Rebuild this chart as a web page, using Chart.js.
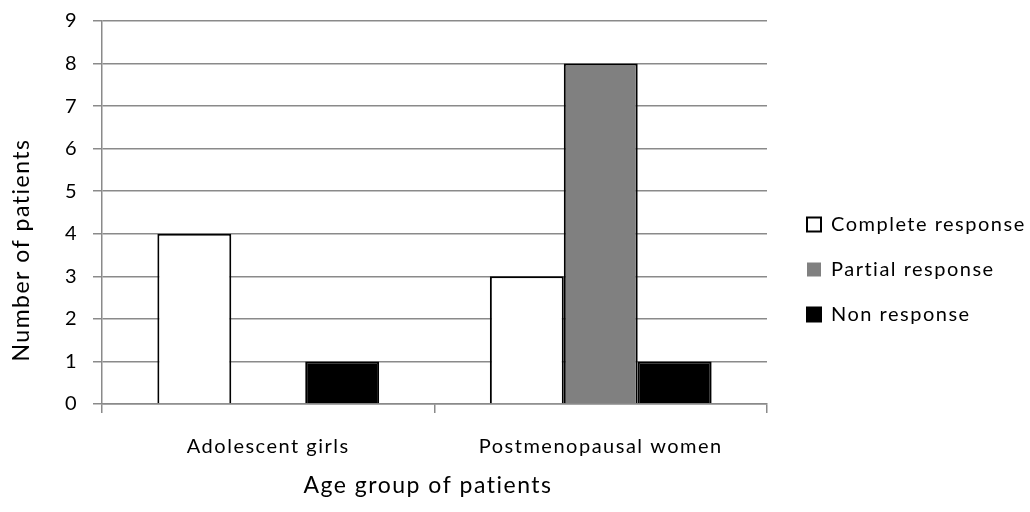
<!DOCTYPE html>
<html>
<head>
<meta charset="utf-8">
<script src="https://cdn.jsdelivr.net/npm/chart.js@4.4.1/dist/chart.umd.min.js"></script>
<style>
  html, body { margin: 0; padding: 0; background: #fff; }
  #chart { display: block; }
</style>
</head>
<body>
<canvas id="chart" width="1030" height="512"></canvas>
<script>
// Chart data
const ageGroups = ['Adolescent girls', 'Postmenopausal women'];
const completeResponse = [4, 3];
const partialResponse = [0, 8];
const nonResponse = [1, 1];
const yTickValues = [0, 1, 2, 3, 4, 5, 6, 7, 8, 9];
const xTitle = 'Age group of patients';
const yTitle = 'Number of patients';

const fontFamily = 'Lato, "Open Sans", sans-serif';
const axisGray = '#8a8a8a';

// Calibri-like loose spacing in the original picture
const textSpacing = {
    id: 'textSpacing',
    beforeLayout(chart) { chart.ctx.letterSpacing = '1.5px'; },
    beforeDraw(chart) { chart.ctx.letterSpacing = '1.5px'; }
};

// Axis titles, placed like the original (y title sits lower than centre)
const axisTitles = {
    id: 'axisTitles',
    afterDraw(chart) {
        const ctx = chart.ctx;
        ctx.save();
        ctx.fillStyle = '#000';
        ctx.font = '23px ' + fontFamily;
        ctx.textAlign = 'center';
        ctx.textBaseline = 'middle';
        ctx.fillText(xTitle, 428, 486);
        ctx.translate(22, 250);
        ctx.rotate(-Math.PI / 2);
        ctx.fillText(yTitle, 0, 0);
        ctx.restore();
    }
};

// hide the border of a zero bar
function barBorder(ctx) {
    return ctx.raw === 0 ? 0 : 2;
}

const chart = new Chart(document.getElementById('chart'), {
    type: 'bar',
    data: {
        labels: ageGroups,
        datasets: [
            {
                label: 'Complete response',
                data: completeResponse,
                backgroundColor: '#ffffff',
                borderColor: '#000000',
                borderWidth: barBorder
            },
            {
                label: 'Partial response',
                data: partialResponse,
                backgroundColor: '#808080',
                borderColor: '#000000',
                borderWidth: barBorder
            },
            {
                label: 'Non response',
                data: nonResponse,
                backgroundColor: '#000000',
                borderColor: '#000000',
                borderWidth: barBorder
            }
        ]
    },
    options: {
        responsive: false,
        animation: false,
        categoryPercentage: 0.667,
        barPercentage: 1.0,
        layout: {
            padding: { top: 21, left: 0, right: 0, bottom: 0 }
        },
        plugins: {
            tooltip: { enabled: false },
            legend: {
                position: 'right',
                maxWidth: 248,
                title: {
                    display: true,
                    text: ' ',
                    font: { size: 5 },
                    padding: 0
                },
                labels: {
                    boxWidth: 14,
                    boxHeight: 14,
                    padding: 25,
                    color: '#000',
                    font: { family: fontFamily, size: 20 }
                }
            }
        },
        scales: {
            x: {
                grid: {
                    display: true,
                    drawOnChartArea: false,
                    drawTicks: true,
                    tickLength: 9,
                    color: axisGray,
                    lineWidth: 1.5,
                    offset: true
                },
                border: { color: axisGray, width: 1.5 },
                ticks: {
                    color: '#000',
                    font: { family: fontFamily, size: 20 },
                    padding: 22
                },
                afterFit(scale) { scale.height = 108; }
            },
            y: {
                min: yTickValues[0],
                max: yTickValues[yTickValues.length - 1],
                afterBuildTicks(scale) {
                    scale.ticks = yTickValues.map(v => ({ value: v }));
                },
                grid: { color: axisGray, lineWidth: 1.5, tickLength: 9 },
                border: { color: axisGray, width: 1.5 },
                ticks: {
                    color: '#000',
                    font: { family: fontFamily, size: 20 },
                    padding: 15
                },
                afterFit(scale) {
                    scale.width = 102;
                    scale.paddingTop = 0;
                    scale.paddingBottom = 0;
                }
            },
            // empty axis only used as a gap before the legend
            gap: {
                type: 'linear',
                position: 'right',
                display: true,
                grid: { display: false },
                ticks: { display: false },
                border: { display: false },
                afterFit(scale) { scale.width = 15; }
            }
        }
    },
    plugins: [textSpacing, axisTitles]
});
</script>
</body>
</html>
